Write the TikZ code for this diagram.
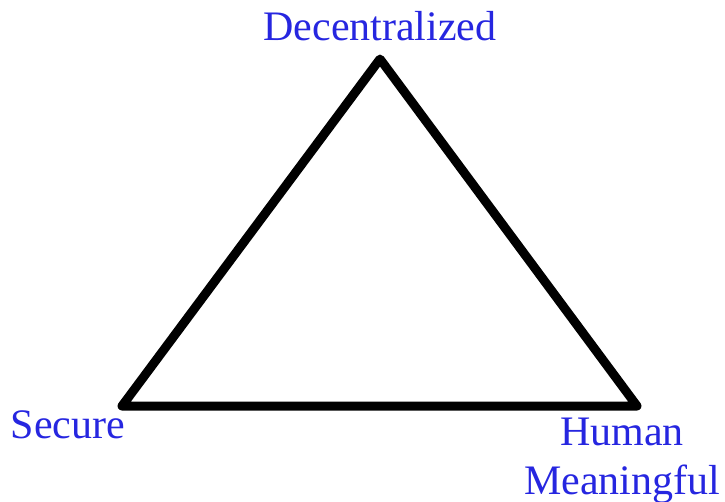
\documentclass[tikz,border=0pt]{standalone}
\usepackage{fontspec}
\setmainfont{Liberation Serif}
\usepackage{tikz}
\definecolor{labelblue}{RGB}{38,38,224}

\begin{document}
\begin{tikzpicture}[x=1pt,y=-1pt,
  lbl/.style={text=labelblue,inner sep=0pt,align=center,font=\fontsize{42}{49}\selectfont}]
\useasboundingbox (0,0) rectangle (725,501);
\coordinate (top) at (380,59);
\coordinate (left) at (122,406);
\coordinate (right) at (637,406);
\draw[line width=9pt, line join=round] (top) -- (left) -- (right) -- cycle;
\node[lbl, anchor=base] (dec) at (380,40) {Decentralized};
\node[lbl, anchor=base] (sec) at (68,438) {Secure};
\node[lbl, anchor=base] (hum) at (622,494) {Human\\Meaningful};
\end{tikzpicture}
\end{document}
